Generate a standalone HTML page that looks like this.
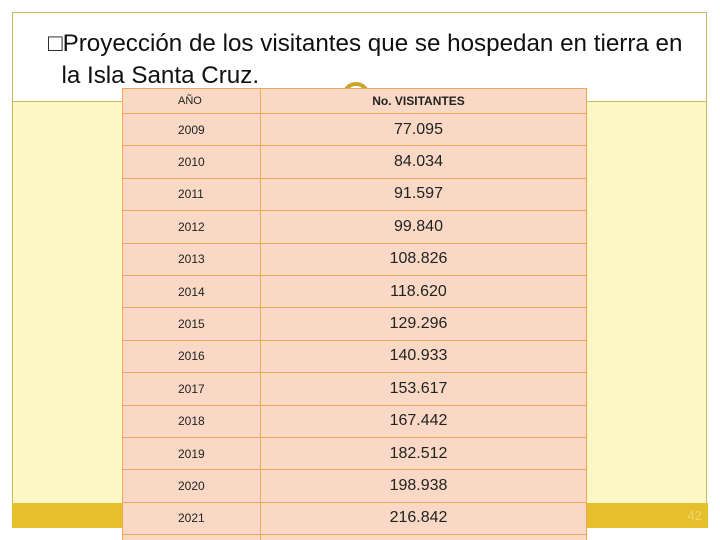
<!DOCTYPE html>
<html style="width:720px;height:540px;overflow:hidden"><head><meta charset="utf-8"><style>
body{margin:0;width:720px;height:540px;background:#fff;position:relative;overflow:hidden;font-family:"Liberation Sans",sans-serif}
.abs{position:absolute}
#frame{left:12px;top:12px;width:695px;height:516px;border:1px solid #c9b86a;box-sizing:border-box;background:#fff}
#yellow{left:13px;top:101px;width:693px;height:402px;background:#fef7c6;border-top:1px solid #c9b86a}
#gold{left:12px;top:503px;width:696px;height:25px;background:#e6bf2d}
#title{left:48px;top:28px;font-size:24.2px;line-height:32px;color:#111;white-space:nowrap}
#ring{left:342px;top:82px;width:28px;height:28px;border:4px solid #c9a52a;border-radius:50%;box-sizing:border-box}
#tbl{position:absolute;left:122px;top:88px;width:465px;height:452px;overflow:hidden}
table{width:465px;border-collapse:collapse;background:#f9d9c5}
td{border:1px solid #f0a656;height:31.4px;padding:0;color:#222}
td.y{width:138px;padding-left:55px;font-size:12px;box-sizing:border-box}
td.v{text-align:center;font-size:16px;padding-right:10px}
tr.h td{height:24px;font-size:11px}
#pg{right:18px;top:508px;color:#f0d46a;font-size:13px}
</style></head><body>
<div class="abs" id="frame"></div>
<div class="abs" id="yellow"></div>
<div class="abs" id="gold"></div>
<div class="abs" id="pg">42</div>
<div class="abs" id="title">□Proyección de los visitantes que se hospedan en tierra en<br>&nbsp;&nbsp;la Isla Santa Cruz.</div>
<div class="abs" id="ring"></div>
<div id="tbl">
<table>
<tr class="h"><td class="y">AÑO</td><td class="v" style="font-size:12px;font-weight:bold">No. VISITANTES</td></tr>
<tr><td class="y">2009</td><td class="v">77.095</td></tr>
<tr><td class="y">2010</td><td class="v">84.034</td></tr>
<tr><td class="y">2011</td><td class="v">91.597</td></tr>
<tr><td class="y">2012</td><td class="v">99.840</td></tr>
<tr><td class="y">2013</td><td class="v">108.826</td></tr>
<tr><td class="y">2014</td><td class="v">118.620</td></tr>
<tr><td class="y">2015</td><td class="v">129.296</td></tr>
<tr><td class="y">2016</td><td class="v">140.933</td></tr>
<tr><td class="y">2017</td><td class="v">153.617</td></tr>
<tr><td class="y">2018</td><td class="v">167.442</td></tr>
<tr><td class="y">2019</td><td class="v">182.512</td></tr>
<tr><td class="y">2020</td><td class="v">198.938</td></tr>
<tr><td class="y">2021</td><td class="v">216.842</td></tr>
<tr><td class="y"></td><td class="v"></td></tr>
</table>
</div>
</body></html>
